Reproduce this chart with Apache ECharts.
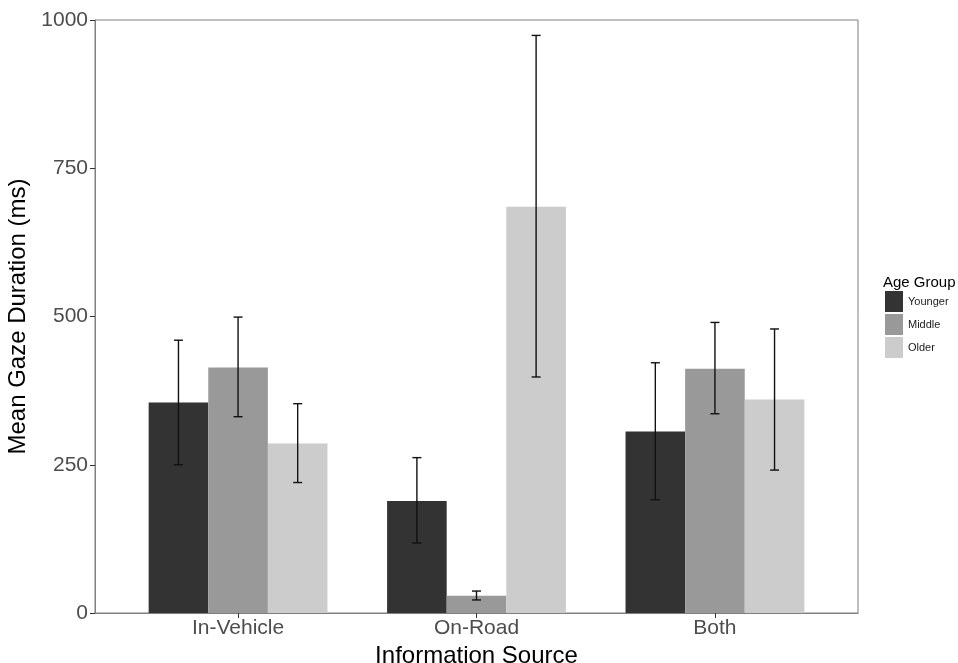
<!DOCTYPE html>
<html>
<head>
<meta charset="utf-8">
<script src="https://cdn.jsdelivr.net/npm/echarts@6/dist/echarts.min.js"></script>
<style>html,body{margin:0;padding:0;background:#fff;}#chart{width:958px;height:663px;}</style>
</head>
<body>
<div id="chart"></div>
<script>
const categories = ['In-Vehicle', 'On-Road', 'Both'];
const groups = ['Younger', 'Middle', 'Older'];
const younger = [355, 189, 306];
const youngerLow = [250, 118, 191];
const youngerHigh = [460, 262, 422];
const middle = [414, 29, 412];
const middleLow = [331, 22, 336];
const middleHigh = [499, 37, 490];
const older = [286, 685, 360];
const olderLow = [220, 398, 241];
const olderHigh = [353, 974, 479];
const yTicks = [0, 250, 500, 750, 1000];

const colors = ['#333333', '#999999', '#cccccc'];
const means = [younger, middle, older];
const lows = [youngerLow, middleLow, olderLow];
const highs = [youngerHigh, middleHigh, olderHigh];
const dodge = 0.25;
const offsets = [-dodge, 0, dodge];

const chart = echarts.init(document.getElementById('chart'), null, {renderer: 'canvas'});

function barRender(sIdx) {
  return function (params, api) {
    const xc = api.value(0) + offsets[sIdx];
    const v = api.value(1);
    const p1 = api.coord([xc - dodge / 2, v]);
    const p2 = api.coord([xc + dodge / 2, 0]);
    return {
      type: 'rect',
      shape: {x: p1[0], y: p1[1], width: p2[0] - p1[0], height: p2[1] - p1[1]},
      style: api.style()
    };
  };
}

const series = groups.map((g, s) => ({
  name: g,
  type: 'custom',
  renderItem: barRender(s),
  itemStyle: {color: colors[s]},
  encode: {x: 0, y: 1},
  data: categories.map((c, i) => [i + 1, means[s][i]]),
  z: 2
}));

const errData = [];
groups.forEach((g, s) => {
  categories.forEach((c, i) => {
    errData.push([i + 1 + offsets[s], lows[s][i], highs[s][i]]);
  });
});

series.push({
  name: 'err',
  type: 'custom',
  encode: {x: 0, y: [1, 2]},
  data: errData,
  z: 5,
  renderItem: function (params, api) {
    const x = api.value(0);
    const lo = api.coord([x, api.value(1)]);
    const hi = api.coord([x, api.value(2)]);
    const hw = 4.5;
    const st = {stroke: '#111', lineWidth: 1.4};
    return {
      type: 'group',
      children: [
        {type: 'line', shape: {x1: lo[0], y1: lo[1], x2: hi[0], y2: hi[1]}, style: st},
        {type: 'line', shape: {x1: lo[0] - hw, y1: lo[1], x2: lo[0] + hw, y2: lo[1]}, style: st},
        {type: 'line', shape: {x1: hi[0] - hw, y1: hi[1], x2: hi[0] + hw, y2: hi[1]}, style: st}
      ]
    };
  }
});

const option = {
  animation: false,
  backgroundColor: '#ffffff',
  title: {
    text: 'Age Group',
    left: 883,
    top: 275,
    padding: 0,
    textStyle: {fontFamily: 'Liberation Sans', fontSize: 15, fontWeight: 'normal', color: '#000'}
  },
  legend: {
    data: groups,
    orient: 'vertical',
    left: 885,
    top: 291,
    padding: 0,
    itemWidth: 18,
    itemHeight: 21,
    itemGap: 2,
    icon: 'rect',
    textStyle: {fontFamily: 'Liberation Sans', fontSize: 11, color: '#1a1a1a'}
  },
  grid: {
    left: 95, right: 100, top: 20, bottom: 50,
    containLabel: false,
    outerBoundsMode: 'none',
    show: true, borderColor: '#7f7f7f', borderWidth: 1, backgroundColor: 'transparent'
  },
  xAxis: {
    type: 'value',
    min: 0.4,
    max: 3.6,
    name: 'Information Source',
    nameLocation: 'middle',
    nameGap: 27,
    nameTextStyle: {fontFamily: 'Liberation Sans', fontSize: 24, color: '#000'},
    splitLine: {show: false},
    axisLine: {show: true, lineStyle: {color: '#7f7f7f', width: 1}},
    axisTick: {show: true, customValues: [1, 2, 3], length: 5, lineStyle: {color: '#333'}},
    axisLabel: {
      customValues: [1, 2, 3],
      margin: 5,
      fontFamily: 'Liberation Sans', fontSize: 21, color: '#4d4d4d',
      formatter: v => categories[Math.round(v) - 1]
    }
  },
  yAxis: {
    type: 'value',
    min: 0,
    max: 1000,
    interval: 250,
    name: 'Mean Gaze Duration (ms)',
    nameLocation: 'middle',
    nameGap: 50,
    nameRotate: 90,
    nameTextStyle: {fontFamily: 'Liberation Sans', fontSize: 24, color: '#000'},
    splitLine: {show: false},
    axisLine: {show: true, lineStyle: {color: '#7f7f7f', width: 1}},
    axisTick: {show: true, length: 5, lineStyle: {color: '#333'}},
    axisLabel: {
      margin: 7,
      fontFamily: 'Liberation Sans', fontSize: 21, color: '#4d4d4d',
      customValues: yTicks,
      formatter: v => String(v)
    }
  },
  series: series
};
chart.setOption(option);
</script>
</body>
</html>
